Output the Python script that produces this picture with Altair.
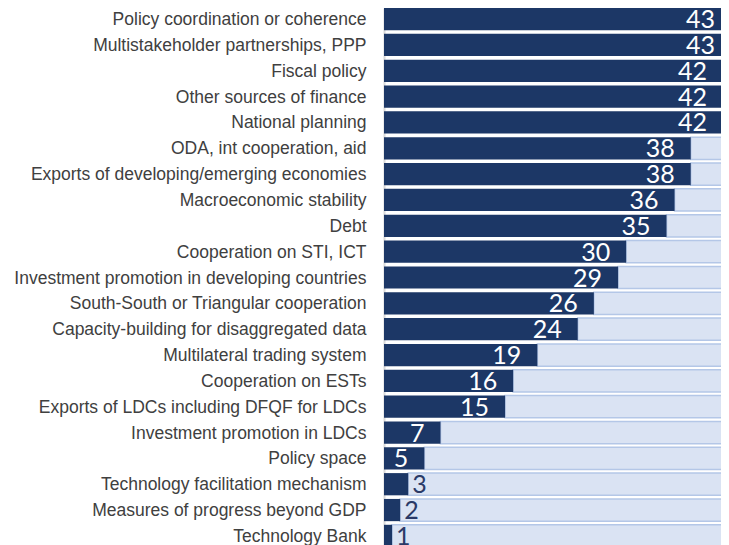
import altair as alt
import pandas as pd

categories = [
    "Policy coordination or coherence",
    "Multistakeholder partnerships, PPP",
    "Fiscal policy",
    "Other sources of finance",
    "National planning",
    "ODA, int cooperation, aid",
    "Exports of developing/emerging economies",
    "Macroeconomic stability",
    "Debt",
    "Cooperation on STI, ICT",
    "Investment promotion in developing countries ",
    "South-South or Triangular cooperation",
    "Capacity-building for disaggregated data",
    "Multilateral trading system",
    "Cooperation on ESTs",
    "Exports of LDCs including DFQF for LDCs",
    "Investment promotion in LDCs",
    "Policy space",
    "Technology facilitation mechanism",
    "Measures of progress beyond GDP",
    "Technology Bank",
]
values = [43, 43, 42, 42, 42, 38, 38, 36, 35, 30, 29, 26, 24, 19, 16, 15, 7, 5, 3, 2, 1]
total = 43

df = pd.DataFrame({"cat": categories, "value": values})
df["total"] = total

xs = alt.Scale(domain=[0, 41.75], nice=False, zero=True)
y = alt.Y(
    "cat:N",
    sort=categories,
    scale=alt.Scale(range=[0, 539], paddingInner=0.14, paddingOuter=0),
    axis=alt.Axis(
        title=None,
        ticks=False,
        grid=False,
        labelFont="Liberation Sans",
        labelFontSize=17.5,
        labelColor="#404040",
        labelPadding=18,
        labelLimit=0,
        labelBaseline="middle",
        labelOffset=1,
        domainColor="#d9d9d9",
        domainWidth=2,
    ),
)

base = alt.Chart(df)

bg = base.mark_bar(color="#dae3f3", stroke="#b4c7e7", strokeWidth=1.5).encode(
    x=alt.X("value:Q", scale=xs, axis=None), x2="total:Q", y=y
)
fg = base.mark_bar(color="#1c3766").encode(
    x=alt.X("value:Q", scale=xs, axis=None), y=y
)
txt_in = base.transform_filter("datum.value >= 5").mark_text(
    align="right", baseline="middle", dx=-16, dy=1, color="white", font="Lato", fontSize=25
).encode(x=alt.X("value:Q", scale=xs, axis=None), y=y, text="value:Q")
txt_out = base.transform_filter("datum.value < 5").mark_text(
    align="left", baseline="middle", dx=4, dy=1, color="#2b3a67", font="Lato", fontSize=25
).encode(x=alt.X("value:Q", scale=xs, axis=None), y=y, text="value:Q")

chart = (
    alt.layer(bg, fg, txt_in, txt_out)
    .properties(
        width=337,
        height=537,
        autosize=alt.AutoSizeParams(type="none"),
        padding={"left": 376, "top": 0, "right": 0, "bottom": 0},
    )
    .configure_view(stroke=None)
    .configure(background="white")
)

chart.save("out.html", embed_options={"renderer": "svg", "actions": False})
